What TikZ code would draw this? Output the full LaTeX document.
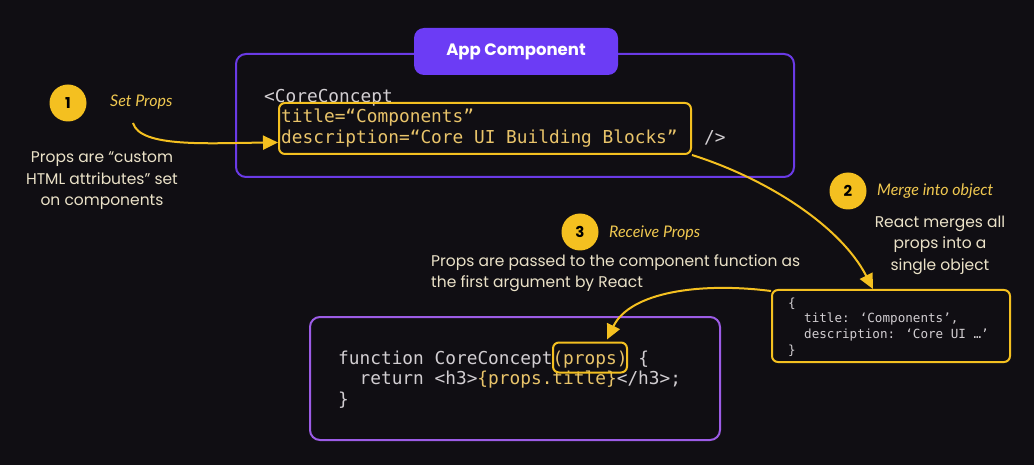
\documentclass[tikz,border=0pt]{standalone}
\usepackage{fontspec}
\setmainfont{Poppins}
\newfontfamily\codefont{DejaVu Sans Mono}
\newfontfamily\handfont{Lato}
\usetikzlibrary{arrows.meta}
\definecolor{bgc}{HTML}{100E13}
\definecolor{appfill}{HTML}{6C3CF5}
\definecolor{appline}{HTML}{6A3AE6}
\definecolor{funcline}{HTML}{9C5CE6}
\definecolor{ylw}{HTML}{F4C020}
\definecolor{codeyel}{HTML}{E9C46A}
\definecolor{codegrey}{HTML}{D2CED2}
\definecolor{beige}{HTML}{EBE2C8}
\definecolor{lblyel}{HTML}{F0C850}
\tikzset{
  ybox/.style={draw=ylw, line width=2pt, rounded corners=6pt, inner sep=0pt},
  yarrow/.style={draw=ylw, line width=2pt, -{Triangle[length=15pt,width=14pt]}},
  stepnum/.style={circle, fill=ylw, minimum size=37pt, inner sep=0pt, text=black, font=\bfseries\fontsize{15}{15}\selectfont},
  handlbl/.style={text=lblyel, font=\handfont\itshape\fontsize{16}{16}\selectfont, anchor=west, inner sep=0pt},
  desc/.style={text=beige, font=\fontsize{15.5}{21.5}\selectfont, align=center, inner sep=0pt},
  bigcode/.style={font=\codefont\fontsize{17.8}{20}\selectfont, anchor=base west, inner sep=0pt},
  smallcode/.style={font=\codefont\fontsize{12.6}{15}\selectfont, anchor=base west, inner sep=0pt, text=codegrey},
}
\begin{document}
\begin{tikzpicture}[x=1pt,y=-1pt]
\useasboundingbox[fill=bgc] (0,0) rectangle (1034,465);
% App component box
\node[draw=appline, line width=2pt, rounded corners=10pt, minimum width=558pt, minimum height=123pt, inner sep=0pt] (appbox) at (515,115.5) {};
\node[fill=appfill, rounded corners=10pt, minimum width=204pt, minimum height=47pt, inner sep=0pt, text=white, font=\bfseries\fontsize{16.5}{16.5}\selectfont] (applbl) at (516,51.5) {App Component};
% code in app
\node[bigcode, text=codegrey] (c1) at (264,102.5) {<CoreConcept};
\node[bigcode, text=codeyel] (c2) at (281,123) {title=“Components”};
\node[bigcode, text=codeyel] (c3) at (281,143.5) {description=“Core UI Building Blocks”};
\node[bigcode, text=codegrey] (c4) at (704,143.5) {/>};
\node[ybox, minimum width=412pt, minimum height=51pt] (attrbox) at (485,128.5) {};
% step 1
\node[stepnum] (n1) at (68,103) {1};
\node[handlbl] (l1) at (110,102) {Set Props};
\node[desc] (d1) at (102,181) {Props are “custom\\HTML attributes” set\\on components};
% step 2
\node[stepnum] (n2) at (848,191) {2};
\node[handlbl] (l2) at (877,191) {Merge into object};
\node[desc] (d2) at (940,245) {React merges all\\props into a\\single object};
% object box
\node[ybox, minimum width=238pt, minimum height=72pt] (objbox) at (891,326) {};
\node[smallcode] (o1) at (788,308) {\{};
\node[smallcode] (o2) at (804,323) {title: ‘Components’,};
\node[smallcode] (o3) at (804,338.5) {description: ‘Core UI …’};
\node[smallcode] (o4) at (788,354) {\}};
% step 3
\node[stepnum] (n3) at (580,232) {3};
\node[handlbl] (l3) at (609,233) {Receive Props};
\node[desc, align=left, anchor=north west] (d3) at (431,254) {Props are passed to the component function as\\the first argument by React};
% function box
\node[draw=funcline, line width=2pt, rounded corners=10pt, minimum width=410pt, minimum height=123pt, inner sep=0pt] (funcbox) at (515,378.5) {};
\node[bigcode] (f1) at (338,364) {{\color{codegrey}function CoreConcept}{\color{codeyel}(props)}\ {\color{codegrey}\{}};
\node[bigcode] (f2) at (359.4,384.5) {{\color{codegrey}return <h3>}{\color{codeyel}\{props.title\}}{\color{codegrey}</h3>;}};
\node[bigcode, text=codegrey] (f3) at (338,405) {\}};
\node[ybox, minimum width=74pt, minimum height=30pt] (propsbox) at (590,357.5) {};
% arrows
\coordinate (a1s) at (133,123);
\draw[yarrow] (a1s) .. controls (140,148) and (210,143) .. ([yshift=-14pt]attrbox.west);
\draw[yarrow] (attrbox.south east) .. controls (765,178) and (840,225) .. ([xshift=-18pt]objbox.north);
\draw[yarrow] ([yshift=-2pt]objbox.north west) .. controls (700,282) and (630,292) .. ([xshift=17pt,yshift=2pt]propsbox.north);
\end{tikzpicture}
\end{document}
